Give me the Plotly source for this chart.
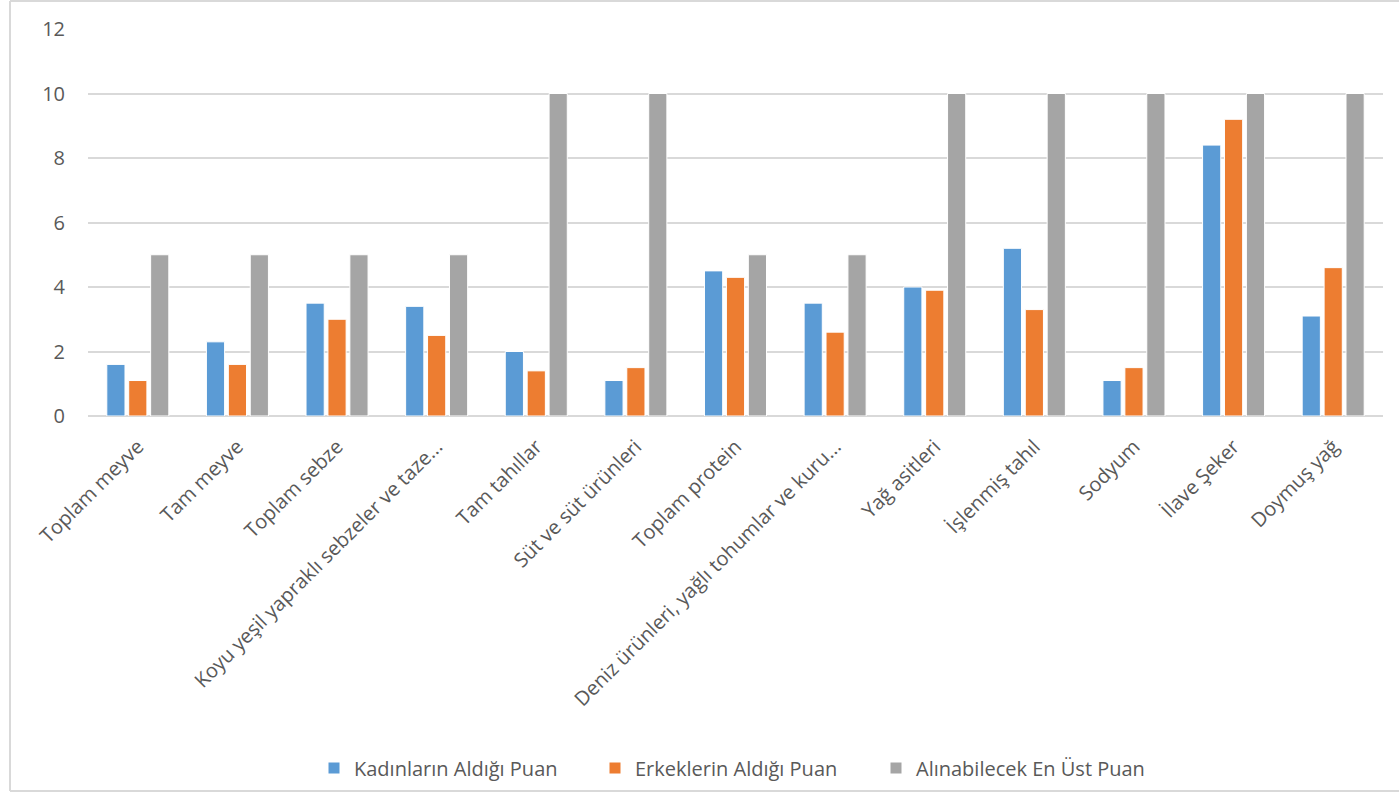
import plotly.graph_objects as go

categories = [
    "Toplam meyve", "Tam meyve", "Toplam sebze",
    "Koyu yeşil yapraklı sebzeler ve taze...", "Tam tahıllar",
    "Süt ve süt ürünleri", "Toplam protein",
    "Deniz ürünleri, yağlı tohumlar ve kuru...", "Yağ asitleri",
    "İşlenmiş tahıl", "Sodyum", "İlave Şeker", "Doymuş yağ",
]
kadin = [1.6, 2.3, 3.5, 3.4, 2.0, 1.1, 4.5, 3.5, 4.0, 5.2, 1.1, 8.4, 3.1]
erkek = [1.1, 1.6, 3.0, 2.5, 1.4, 1.5, 4.3, 2.6, 3.9, 3.3, 1.5, 9.2, 4.6]
ust_puan = [5, 5, 5, 5, 10, 10, 5, 5, 10, 10, 10, 10, 10]

series_names = ["Kadınların Aldığı Puan", "Erkeklerin Aldığı Puan", "Alınabilecek En Üst Puan"]
colors = ["#5b9bd5", "#ed7d31", "#a5a5a5"]
y_ticks = [0, 2, 4, 6, 8, 10, 12]

W, H = 1399, 793
L, R, T, B = 88, 16, 29, 377
pw, ph = W - L - R, H - T - B

fig = go.Figure()
for name, vals, col in zip(series_names, [kadin, erkek, ust_puan], colors):
    fig.add_trace(go.Bar(
        x=categories, y=vals, name=name,
        marker=dict(color=col, line=dict(color="white", width=1)),
    ))

def px_x(p):
    return (p - L) / pw

def px_y(p):
    return (H - B - p) / ph

border = dict(color="#d9d9d9", width=2)
fig.add_shape(type="line", xref="paper", yref="paper",
              x0=px_x(10), x1=px_x(10), y0=px_y(1), y1=px_y(791), line=border)
fig.add_shape(type="line", xref="paper", yref="paper",
              x0=px_x(10), x1=px_x(1410), y0=px_y(1), y1=px_y(1), line=border)
fig.add_shape(type="line", xref="paper", yref="paper",
              x0=px_x(10), x1=px_x(1410), y0=px_y(791), y1=px_y(791), line=border)

font_family = "Open Sans, Noto Sans, sans-serif"
fig.update_layout(
    width=W, height=H,
    margin=dict(l=L, r=R, t=T, b=B, autoexpand=False),
    paper_bgcolor="white", plot_bgcolor="white",
    barmode="group", bargap=0.34, bargroupgap=0.17,
    font=dict(family=font_family, color="#595959", size=18),
    showlegend=True,
    legend=dict(
        orientation="h", x=0.5, xanchor="center",
        y=px_y(768), yanchor="middle",
        font=dict(size=20, color="#595959"),
        itemwidth=30, traceorder="normal",
        entrywidth=236, entrywidthmode="pixels",
    ),
    xaxis=dict(
        tickangle=-45, showgrid=False, showline=False, ticks="",
        tickfont=dict(size=20, color="#595959"),
        ticklabelstandoff=14,
    ),
    yaxis=dict(
        range=[0, 12], tickvals=y_ticks, showgrid=True,
        gridcolor="#d9d9d9", gridwidth=1.5, zeroline=True,
        zerolinecolor="#d9d9d9", zerolinewidth=1.5,
        showline=False, ticks="", ticklabelstandoff=22,
        tickfont=dict(size=20, color="#595959"),
    ),
)

fig.write_html("out.html")
